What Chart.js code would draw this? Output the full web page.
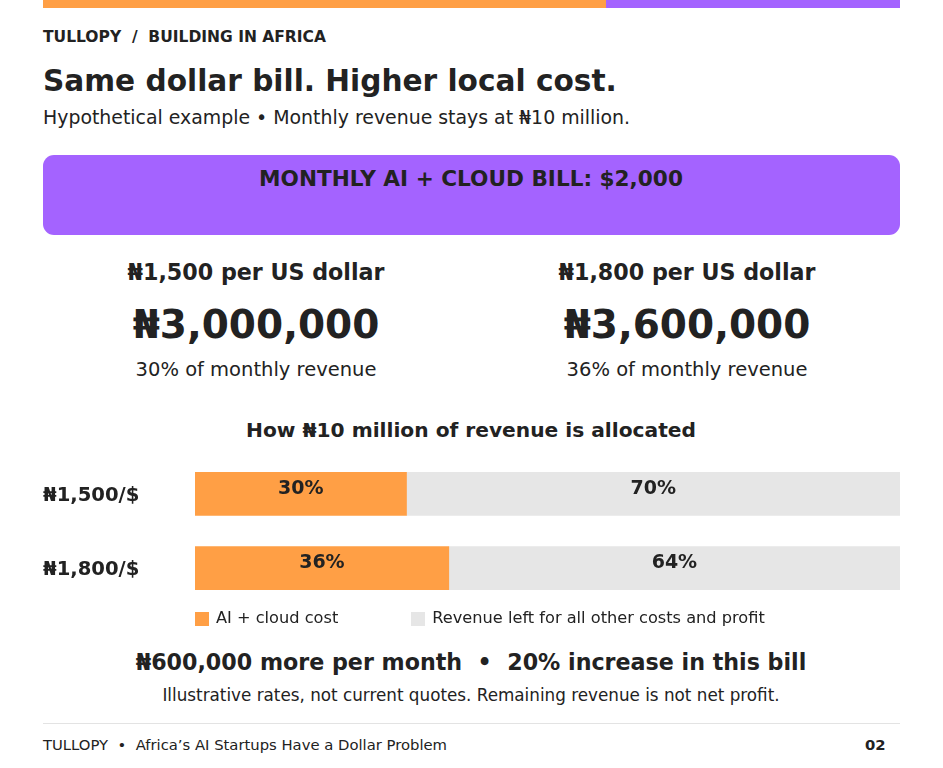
<!DOCTYPE html>
<html>
<head>
<meta charset="utf-8">
<script src="https://cdn.jsdelivr.net/npm/chart.js@4"></script>
<style>
  html, body { margin: 0; padding: 0; background: #fff; }
  body { width: 943px; height: 768px; position: relative; overflow: hidden; font-family: "DejaVu Sans", sans-serif; color: #222; }
  .abs { position: absolute; white-space: nowrap; }
  .topbar { position: absolute; top: 0; height: 8px; }
  .center { transform: translateX(-50%); text-align: center; }
  .bill { position: absolute; left: 43px; top: 155px; width: 857px; height: 80px; background: #a463ff; border-radius: 11px; }
  .legend-box { display: inline-block; width: 14px; height: 14px; vertical-align: -3px; margin-right: 7px; }
  #bars { position: absolute; left: 43px; top: 445px; }
  .rule { position: absolute; left: 43px; top: 723px; width: 857px; height: 1px; background: #e3e3e3; }
</style>
</head>
<body>
<div class="topbar" style="left:43px;width:563px;background:#ff9f45"></div>
<div class="topbar" style="left:606px;width:294px;background:#a463ff"></div>

<div class="abs" style="left:43px;top:28px;font-size:15.5px;font-weight:bold;">TULLOPY&nbsp; /&nbsp; BUILDING IN AFRICA</div>
<div class="abs" style="left:43px;top:64px;font-size:29.6px;font-weight:bold;">Same dollar bill. Higher local cost.</div>
<div class="abs" style="left:43px;top:106px;font-size:18.9px;">Hypothetical example • Monthly revenue stays at ₦10 million.</div>

<div class="bill"></div>
<div class="abs center" style="left:471px;top:166px;font-size:21.6px;font-weight:bold;">MONTHLY AI + CLOUD BILL: $2,000</div>

<div id="scenarios"></div>

<div class="abs center" style="left:471px;top:418px;font-size:20.2px;font-weight:bold;">How ₦10 million of revenue is allocated</div>

<canvas id="bars" width="857" height="172"></canvas>
<div id="legend" class="abs" style="left:195px;top:608px;font-size:16.2px;"></div>

<div class="abs center" style="left:471px;top:649px;font-size:22.2px;font-weight:bold;">₦600,000 more per month&nbsp; •&nbsp; 20% increase in this bill</div>
<div class="abs center" style="left:471px;top:685px;font-size:16.8px;">Illustrative rates, not current quotes. Remaining revenue is not net profit.</div>

<div class="rule"></div>
<div class="abs" style="left:43px;top:736px;font-size:14.8px;">TULLOPY&nbsp; •&nbsp; Africa’s AI Startups Have a Dollar Problem</div>
<div class="abs" style="left:865px;top:736px;font-size:14.8px;font-weight:bold;">02</div>

<script>
// scenario data
const rateLabels = ['₦1,500/$', '₦1,800/$'];
const rateHeadings = ['₦1,500 per US dollar', '₦1,800 per US dollar'];
const billNaira = ['₦3,000,000', '₦3,600,000'];
const aiCloudShare = [30, 36];
const remainingShare = [70, 64];
const seriesNames = ['AI + cloud cost', 'Revenue left for all other costs and profit'];
const seriesColors = ['#ff9f45', '#e6e6e6'];

// the two scenario columns
const colX = [256, 687];
let html = '';
rateHeadings.forEach((h, i) => {
  html += `<div class="abs center" style="left:${colX[i]}px;top:259px;font-size:22.2px;font-weight:bold;">${h}</div>`;
  html += `<div class="abs center" style="left:${colX[i]}px;top:302px;font-size:39px;font-weight:bold;">${billNaira[i]}</div>`;
  html += `<div class="abs center" style="left:${colX[i]}px;top:358px;font-size:19.5px;">${aiCloudShare[i]}% of monthly revenue</div>`;
});
document.getElementById('scenarios').innerHTML = html;

// legend
document.getElementById('legend').innerHTML = seriesNames.map((n, i) =>
  `<span style="margin-right:${i === 0 ? 73 : 0}px"><span class="legend-box" style="background:${seriesColors[i]}"></span>${n}</span>`
).join('');

// percent labels inside each bar segment
const segmentLabels = {
  id: 'segmentLabels',
  afterDatasetsDraw(chart) {
    const ctx = chart.ctx;
    ctx.save();
    ctx.font = 'bold 19px "DejaVu Sans"';
    ctx.fillStyle = '#222';
    ctx.textAlign = 'center';
    ctx.textBaseline = 'middle';
    chart.data.datasets.forEach((ds, di) => {
      chart.getDatasetMeta(di).data.forEach((bar, i) => {
        const p = bar.getProps(['x', 'base', 'y'], true);
        ctx.fillText(ds.data[i] + '%', (p.x + p.base) / 2, p.y - 5);
      });
    });
    ctx.restore();
  }
};

new Chart(document.getElementById('bars'), {
  type: 'bar',
  data: {
    labels: rateLabels,
    datasets: [
      { label: seriesNames[0], data: aiCloudShare, backgroundColor: seriesColors[0], barThickness: 43 },
      { label: seriesNames[1], data: remainingShare, backgroundColor: seriesColors[1], barThickness: 43 }
    ]
  },
  options: {
    indexAxis: 'y',
    responsive: false,
    animation: false,
    devicePixelRatio: 1,
    layout: { padding: 0 },
    plugins: { legend: { display: false }, tooltip: { enabled: false } },
    scales: {
      x: { stacked: true, min: 0, max: 100, display: false },
      y: {
        stacked: true,
        grid: { display: false },
        border: { display: false },
        ticks: { crossAlign: 'far', color: '#222', padding: 0, labelOffset: 2, font: { family: 'DejaVu Sans', size: 19.6, weight: 'bold' } },
        afterFit(scale) { scale.width = 152; }
      }
    }
  },
  plugins: [segmentLabels]
});
</script>
</body>
</html>
